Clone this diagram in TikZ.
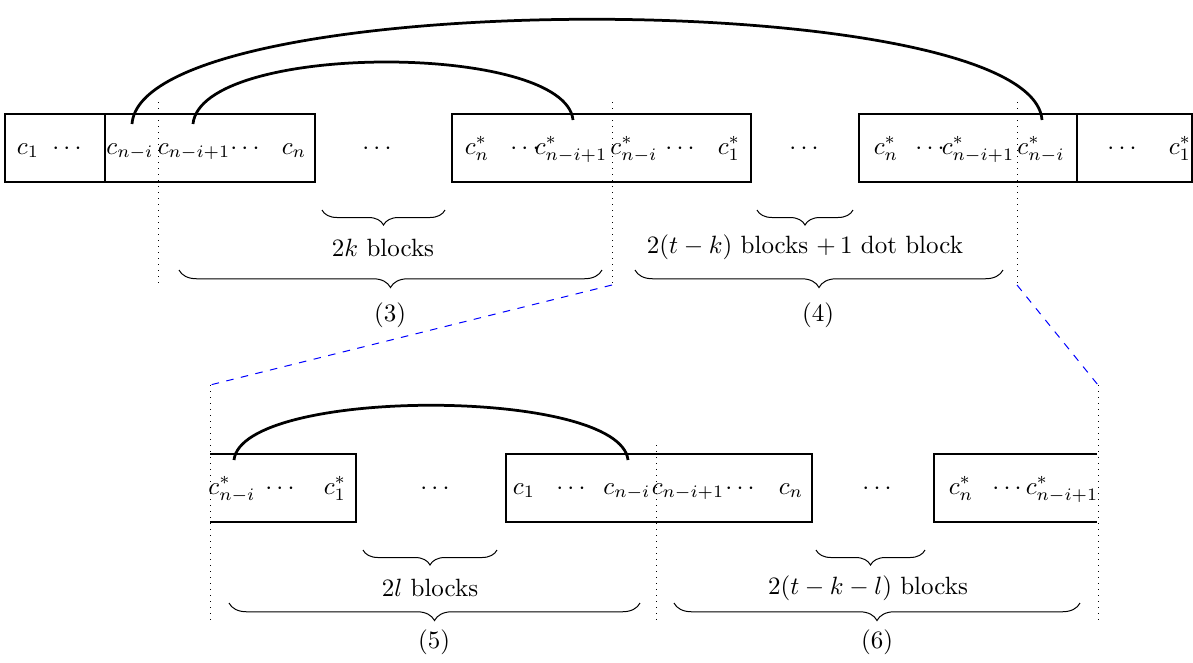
\documentclass[tikz,border=0pt]{standalone}
\usetikzlibrary{decorations.pathreplacing}
\begin{document}
\begin{tikzpicture}[x=0.4pt,y=-0.4pt,
  txt/.style={inner sep=0pt,anchor=base},
  lbl/.style={inner sep=0pt,anchor=center},
  blk/.style={line width=0.5pt},
  cut/.style={dotted,line width=0.4pt},
  link/.style={line width=1.1pt},
  zoomline/.style={dashed,blue,line width=0.4pt},
  smallbrace/.style={decorate,decoration={brace,mirror,amplitude=6pt}},
  bigbrace/.style={decorate,decoration={brace,mirror,amplitude=7pt}}]
\useasboundingbox (0,0) rectangle (1193,662);

% ---------- upper sequence ----------
\draw[blk] (5,114) rectangle (105,182);
\draw[blk] (105,114) rectangle (315,182);
\draw[blk] (452,114) rectangle (751,182);
\draw[blk] (859,114) rectangle (1077,182);
\draw[blk] (1077,114) rectangle (1192,182);

\node[txt] (u1)  at (28,154)   {$c_1$};
\node[txt] (u2)  at (67,154)   {$\cdots$};
\node[txt] (u3)  at (130,154)  {$c_{n-i}$};
\node[txt] (u4)  at (194,154)  {$c_{n-i+1}$};
\node[txt] (u5)  at (245,154)  {$\cdots$};
\node[txt] (u6)  at (294,154)  {$c_n$};
\node[txt] (u7)  at (377,154)  {$\cdots$};
\node[txt] (u8)  at (477,154)  {$c^*_n$};
\node[txt] (u9)  at (525,154)  {$\cdots$};
\node[txt] (u10) at (571,154)  {$c^*_{n-i+1}$};
\node[txt] (u11) at (634,154)  {$c^*_{n-i}$};
\node[txt] (u12) at (680,154)  {$\cdots$};
\node[txt] (u13) at (729,154)  {$c^*_1$};
\node[txt] (u14) at (804,154)  {$\cdots$};
\node[txt] (u15) at (886,154)  {$c^*_n$};
\node[txt] (u16) at (930,154)  {$\cdots$};
\node[txt] (u17) at (978,154)  {$c^*_{n-i+1}$};
\node[txt] (u18) at (1041,154) {$c^*_{n-i}$};
\node[txt] (u19) at (1122,154) {$\cdots$};
\node[txt] (u20) at (1180,154) {$c^*_1$};

% cut positions
\coordinate (p1t) at (158,102);  \coordinate (p1b) at (158,285);
\coordinate (p2t) at (612,102);  \coordinate (p2b) at (612,285);
\coordinate (p3t) at (1017,102); \coordinate (p3b) at (1017,285);
\draw[cut] (p1t) -- (p1b);
\draw[cut] (p2t) -- (p2b);
\draw[cut] (p3t) -- (p3b);

% matching links
\coordinate (la) at (132,124);  \coordinate (lb) at (1042,120);
\coordinate (ma) at (193,124);  \coordinate (mb) at (573,120);
\draw[link] (la) .. controls (142,-15) and (1032,-15) .. (lb);
\draw[link] (ma) .. controls (201,42) and (565,42) .. (mb);

% braces of the upper sequence
\draw[smallbrace] (322,210) -- (445,210);
\node[lbl] (k1) at (383,248) {$2k$ blocks};
\draw[bigbrace] (179,270) -- (602,270);
\node[lbl] (k2) at (390,315) {(3)};
\draw[smallbrace] (757,210) -- (853,210);
\node[lbl] (k3) at (805,247) {$2(t-k)$ blocks $+\,1$ dot block};
\draw[bigbrace] (635,270) -- (1003,270);
\node[lbl] (k4) at (818,315) {(4)};

% ---------- lower sequence (enlarged segment) ----------
\coordinate (q1t) at (210,385);  \coordinate (q1b) at (210,625);
\coordinate (q2t) at (656,445);  \coordinate (q2b) at (656,625);
\coordinate (q3t) at (1098,385); \coordinate (q3b) at (1098,625);
\draw[zoomline] (p2b) -- (q1t);
\draw[zoomline] (p3b) -- (q3t);
\draw[cut] (q1t) -- (q1b);
\draw[cut] (q2t) -- (q2b);
\draw[cut] (q3t) -- (q3b);

\draw[blk] (210,454) -- (356,454) -- (356,522) -- (210,522);
\draw[blk] (506,454) rectangle (812,522);
\draw[blk] (1097,454) -- (934,454) -- (934,522) -- (1097,522);

\node[txt] (w1)  at (232,494)  {$c^*_{n-i}$};
\node[txt] (w2)  at (280,494)  {$\cdots$};
\node[txt] (w3)  at (335,494)  {$c^*_1$};
\node[txt] (w4)  at (435,494)  {$\cdots$};
\node[txt] (w5)  at (524,494)  {$c_1$};
\node[txt] (w6)  at (571,494)  {$\cdots$};
\node[txt] (w7)  at (627,494)  {$c_{n-i}$};
\node[txt] (w8)  at (688,494)  {$c_{n-i+1}$};
\node[txt] (w9)  at (740,494)  {$\cdots$};
\node[txt] (w10) at (791,494)  {$c_n$};
\node[txt] (w11) at (877,494)  {$\cdots$};
\node[txt] (w12) at (961,494)  {$c^*_n$};
\node[txt] (w13) at (1007,494) {$\cdots$};
\node[txt] (w14) at (1062,494) {$c^*_{n-i+1}$};

\coordinate (na) at (234,460); \coordinate (nb) at (628,460);
\draw[link] (na) .. controls (242,387) and (620,387) .. (nb);

% braces of the lower sequence
\draw[smallbrace] (363,550) -- (497,550);
\node[lbl] (k5) at (430,588) {$2l$ blocks};
\draw[bigbrace] (229,603) -- (640,603);
\node[lbl] (k6) at (434,642) {(5)};
\draw[smallbrace] (816,550) -- (925,550);
\node[lbl] (k7) at (868,588) {$2(t-k-l)$ blocks};
\draw[bigbrace] (674,603) -- (1080,603);
\node[lbl] (k8) at (877,642) {(6)};
\end{tikzpicture}
\end{document}
